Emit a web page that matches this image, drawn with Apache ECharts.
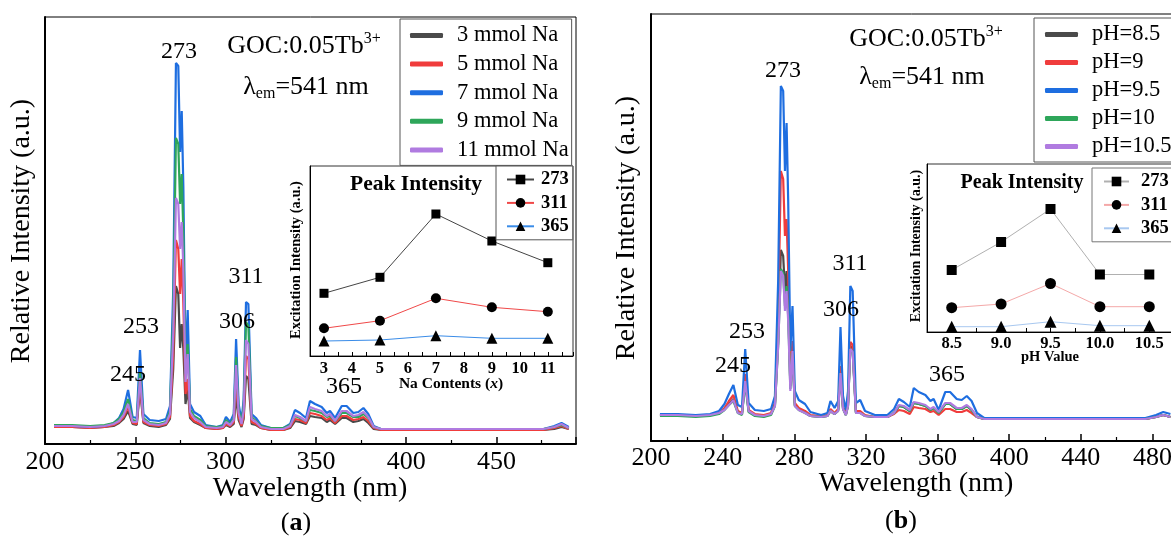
<!DOCTYPE html>
<html>
<head>
<meta charset="utf-8">
<script src="https://cdn.jsdelivr.net/npm/echarts@6/dist/echarts.min.js"></script>
<style>
  html, body { margin: 0; background: #fff; }
  #chart { width: 1171px; height: 536px; }
</style>
</head>
<body>
<div id="chart"></div>
<script>
// wavelength grid (nm) shared by both spectra panels
var wavelengths = [205,215,225,233,238,241,243.5,246,248.5,250.8,
  252.6,254.5,258,263,267,269.2,271,272.5,273.8,274.8,
  275.7,276.6,277.8,279,280.3,282.5,286,289,295,298.5,
  300.2,302.5,304.5,305.8,307.2,308.8,310,311.3,312.6,314.4,
  316.8,319.5,325,332,335.7,338.4,341.2,344.5,346.7,349.5,
  353.2,356,357.8,360.6,364.3,367,370.7,373.5,376.3,379,
  382,386,395,420,450,476,482,486,490];

// (a) Na content series, relative intensity
var na3 = [17,17,16,17,18,21,25,33,20,19,
  55,21,18,17,19,25,75,158,150,96,
  120,95,40,55,26,22,19,16,15,16,
  19,17,20,48,24,17,25,68,65,20,
  19,16,14,14,16,23,22,20,28,27,
  26,22,24,20,26,26,22,23,25,21,
  15,14,14,14,14,14,15,17,15];
var na5 = [17,17,16,17,19,22,27,37,21,20,
  60,22,19,18,20,27,90,204,195,150,
  185,140,50,65,28,23,20,16,15,16,
  20,18,22,63,27,18,28,88,85,22,
  20,16,14,14,17,25,24,21,31,30,
  28,24,26,21,28,28,24,25,27,23,
  16,14,14,14,14,14,16,18,15];
var na7 = [18,18,17,18,21,26,35,54,27,26,
  94,30,24,23,25,38,154,381,378,292,
  333,257,80,134,40,32,28,19,17,19,
  27,22,30,105,40,23,45,142,140,30,
  26,19,16,16,20,34,31,26,43,40,
  37,31,33,26,38,38,31,32,36,30,
  18,15,15,15,15,15,18,21,17];
var na9 = [19,19,18,19,21,25,32,45,24,23,
  72,26,21,20,22,33,130,306,300,240,
  270,210,70,100,35,28,24,18,17,18,
  24,20,26,87,34,21,38,122,118,27,
  23,18,16,16,19,28,26,23,34,33,
  31,27,28,23,31,31,27,27,30,26,
  17,15,15,15,15,15,17,19,16];
var na11 = [18,18,17,18,20,23,29,40,22,22,
  66,24,20,19,21,30,110,246,240,195,
  222,175,62,90,32,26,22,17,16,17,
  22,19,24,79,31,20,33,104,100,25,
  22,17,15,15,18,29,27,23,37,35,
  33,28,30,23,33,33,28,29,32,27,
  17,15,15,15,15,15,17,20,16];

// (b) pH series, relative intensity
var ph85 = [26,26,25,26,28,32,37,42,29,27,
  60,30,26,25,27,36,100,191,185,150,
  170,135,55,90,36,32,29,25,24,25,
  30,27,31,70,33,26,36,95,92,29,
  29,25,24,24,28,35,34,30,38,37,
  35,31,33,28,37,37,32,32,35,31,
  24,22,22,22,22,22,24,26,24];
var ph9 = [26,26,25,26,28,33,40,46,30,28,
  67,31,27,26,28,38,120,270,262,205,
  222,170,65,100,38,33,30,26,25,26,
  32,28,32,75,34,27,38,99,96,30,
  30,26,24,24,27,31,30,27,34,33,
  32,29,30,26,32,32,29,29,31,28,
  24,22,22,22,22,22,24,26,24];
var ph95 = [27,27,26,27,30,37,47,56,36,34,
  92,38,31,30,32,45,160,355,350,270,
  318,240,90,135,50,41,37,29,26,28,
  40,33,40,114,45,31,50,155,150,38,
  41,30,26,26,32,42,39,34,53,49,
  46,40,42,31,49,49,42,41,45,40,
  28,23,23,23,23,23,26,29,27];
var ph10 = [25,25,24,25,27,31,36,40,28,26,
  58,29,25,24,26,35,95,172,168,135,
  155,125,52,88,35,31,28,25,24,25,
  30,27,30,68,32,26,35,92,89,28,
  28,25,24,24,28,35,34,30,38,37,
  35,31,33,28,37,37,32,32,35,31,
  24,22,22,22,22,22,24,26,24];
var ph105 = [26,26,25,26,28,31,36,41,28,27,
  60,30,26,25,27,35,95,170,165,130,
  150,120,50,90,35,31,28,25,24,25,
  30,27,30,68,32,26,35,92,89,28,
  28,25,24,24,28,36,35,31,39,38,
  36,32,34,29,38,38,33,33,36,32,
  24,22,22,22,22,22,24,26,24];

// insets: peak intensity
var naContents = [3, 5, 7, 9, 11];
var naPeak273 = [62.7, 78.7, 142, 115, 93.3];
var naPeak311 = [27.7, 35.3, 57.7, 48.7, 44.3];
var naPeak365 = [15, 16, 20.3, 17.7, 17.7];
var phValues = [8.5, 9.0, 9.5, 10.0, 10.5];
var phPeak273 = [62, 90, 123, 57.5, 57.5];
var phPeak311 = [24.3, 28, 48.5, 25.3, 25.3];
var phPeak365 = [5.3, 5.3, 10.3, 6.3, 6.3];

var serif = "'Liberation Serif', 'Times New Roman', serif";
var colBlack = '#4a4a4a', colRed = '#f03c3c', colBlue = '#1e6ee0', colGreen = '#2ea65a', colPurple = '#b07be0';

function spec(name, vals, color, idx) {
  return {
    name: name, type: 'line', xAxisIndex: idx, yAxisIndex: idx,
    data: wavelengths.map(function (w, i) { return [w, vals[i]]; }),
    showSymbol: false, symbol: 'none', silent: true,
    lineStyle: { width: 2.2, color: color }, itemStyle: { color: color }
  };
}
function peak(name, xs, ys, sym, size, lineColor, idx) {
  return {
    name: name, type: 'line', xAxisIndex: idx, yAxisIndex: idx,
    data: xs.map(function (x, i) { return [x, ys[i]]; }),
    symbol: sym, symbolSize: size, showSymbol: true, silent: true,
    itemStyle: { color: '#000' }, lineStyle: { width: 1, color: lineColor }
  };
}
function label(txt, x, y, size) {
  return { type: 'text', x: x, y: y, z: 50,
    style: { text: txt, fill: '#000', font: (size || 24) + 'px ' + serif, align: 'center', verticalAlign: 'middle' } };
}
function bold(txt, x, y, size, rot) {
  return { type: 'text', x: x, y: y, z: 50, rotation: rot || 0,
    style: { text: txt, fill: '#000', font: 'bold ' + size + 'px ' + serif, align: 'center', verticalAlign: 'middle' } };
}
function goc(x, y) {
  return { type: 'text', x: x, y: y, z: 50,
    style: { text: '{a|GOC:0.05Tb}{s|3+}', align: 'center', verticalAlign: 'middle',
      rich: { a: { fontSize: 26, fontFamily: serif, fill: '#000', lineHeight: 30 },
              s: { fontSize: 16, fontFamily: serif, fill: '#000', verticalAlign: 'top', lineHeight: 30 } } } };
}
function lam(x, y) {
  return { type: 'text', x: x, y: y, z: 50,
    style: { text: '{a|λ}{s|em}{a|=541 nm}', align: 'center', verticalAlign: 'middle',
      rich: { a: { fontSize: 26, fontFamily: serif, fill: '#000', lineHeight: 30 },
              s: { fontSize: 16, fontFamily: serif, fill: '#000', verticalAlign: 'bottom', lineHeight: 24 } } } };
}

var mainX = function (idx, max, interval, margin) {
  return { type: 'value', gridIndex: idx, min: 200, max: max, interval: interval,
    axisLine: { onZero: false, lineStyle: { color: '#000', width: 2 } },
    axisTick: { inside: true, length: 7, lineStyle: { color: '#000', width: 1.5 } },
    minorTick: { show: true, splitNumber: 2, length: 4, lineStyle: { color: '#000', width: 1.2 } },
    axisLabel: { color: '#000', fontSize: 26, fontFamily: serif, margin: margin, showMaxLabel: false },
    splitLine: { show: false } };
};
var plainY = function (idx, max, w) {
  return { type: 'value', gridIndex: idx, min: 0, max: max,
    axisLine: { show: true, lineStyle: { color: '#000', width: w } },
    axisTick: { show: false }, axisLabel: { show: false }, splitLine: { show: false } };
};

var chart = echarts.init(document.getElementById('chart'));
chart.setOption({
  animation: false,
  backgroundColor: '#fff',
  grid: [
    { left: 45, top: 17, width: 531, height: 427, show: true, borderColor: '#000', borderWidth: 1, outerBoundsMode: 'none', containLabel: false },
    { left: 310, top: 166, width: 263, height: 190, show: true, borderColor: '#333', borderWidth: 1, backgroundColor: '#fff', outerBoundsMode: 'none', containLabel: false },
    { left: 651, top: 14, width: 600, height: 427, show: true, borderColor: '#000', borderWidth: 1, outerBoundsMode: 'none', containLabel: false },
    { left: 927, top: 164, width: 247, height: 168, show: true, borderColor: '#333', borderWidth: 1, backgroundColor: '#fff', outerBoundsMode: 'none', containLabel: false }
  ],
  xAxis: [
    mainX(0, 494, 50, 5),
    { type: 'value', gridIndex: 1, min: 2.5, max: 11.9, interval: 0.5,
      axisLine: { onZero: false, lineStyle: { color: '#000', width: 1 } },
      axisTick: { inside: true, length: 4, lineStyle: { color: '#000' } },
      axisLabel: { color: '#000', fontSize: 16.5, fontWeight: 'bold', fontFamily: serif, margin: 4,
        formatter: function (v) { return (Math.abs(v - Math.round(v)) < 1e-6 && v >= 3 && v <= 11) ? String(Math.round(v)) : ''; } },
      splitLine: { show: false } },
    mainX(2, 535, 40, 4),
    { type: 'value', gridIndex: 3, min: 8.25, max: 10.75, interval: 0.25,
      axisLine: { onZero: false, lineStyle: { color: '#000', width: 1 } },
      axisTick: { inside: true, length: 4, lineStyle: { color: '#000' } },
      axisLabel: { color: '#000', fontSize: 16.5, fontWeight: 'bold', fontFamily: serif, margin: 3,
        formatter: function (v) { var t = v * 2; return (Math.abs(t - Math.round(t)) < 1e-6 && v >= 8.5) ? v.toFixed(1) : ''; } },
      splitLine: { show: false } }
  ],
  yAxis: [plainY(0, 427, 2), plainY(1, 190, 1), plainY(2, 427, 2), plainY(3, 168, 1)],
  legend: [
    { data: ['3 mmol Na', '5 mmol Na', '7 mmol Na', '9 mmol Na', '11 mmol Na'],
      orient: 'vertical', left: 400, top: 19, padding: [5, 3, 4, 10], itemGap: 5.6,
      icon: 'roundRect', itemWidth: 33, itemHeight: 5,
      borderColor: '#555', borderWidth: 1, backgroundColor: '#fff', selectedMode: false,
      textStyle: { fontSize: 22.5, fontFamily: serif, color: '#000', lineHeight: 22, padding: [0, 0, 0, 9] } },
    { data: ['273', '311', '365'],
      orient: 'vertical', left: 496, top: 166, padding: [4, 4, 4, 10], itemGap: 4.4,
      itemWidth: 27, itemHeight: 12,
      borderColor: '#555', borderWidth: 1, backgroundColor: '#fff', selectedMode: false,
      textStyle: { fontSize: 18.5, fontWeight: 'bold', fontFamily: serif, color: '#000', lineHeight: 18, padding: [0, 0, 0, 2] } },
    { data: ['pH=8.5', 'pH=9', 'pH=9.5', 'pH=10', 'pH=10.5'],
      orient: 'vertical', left: 1034, top: 18, padding: [5, 20, 4, 11], itemGap: 5,
      icon: 'roundRect', itemWidth: 33, itemHeight: 5,
      borderColor: '#555', borderWidth: 1, backgroundColor: '#fff', selectedMode: false,
      textStyle: { fontSize: 22.5, fontFamily: serif, color: '#000', lineHeight: 22, padding: [0, 0, 0, 9] } },
    { data: ['273 ', '311 ', '365 '], formatter: function (n) { return n.trim(); },
      orient: 'vertical', left: 1092, top: 168, padding: [4, 20, 4, 11], itemGap: 4.4,
      itemWidth: 25, itemHeight: 12,
      borderColor: '#777', borderWidth: 1, backgroundColor: '#fff', selectedMode: false,
      textStyle: { fontSize: 18.5, fontWeight: 'bold', fontFamily: serif, color: '#000', lineHeight: 18, padding: [0, 0, 0, 7] } }
  ],
  series: [
    spec('3 mmol Na', na3, colBlack, 0),
    spec('5 mmol Na', na5, colRed, 0),
    spec('7 mmol Na', na7, colBlue, 0),
    spec('9 mmol Na', na9, colGreen, 0),
    spec('11 mmol Na', na11, colPurple, 0),
    peak('273', naContents, naPeak273, 'rect', 9, '#444', 1),
    peak('311', naContents, naPeak311, 'circle', 10, '#f04848', 1),
    peak('365', naContents, naPeak365, 'triangle', 11, '#3a8ce8', 1),
    spec('pH=8.5', ph85, colBlack, 2),
    spec('pH=9', ph9, colRed, 2),
    spec('pH=9.5', ph95, colBlue, 2),
    spec('pH=10', ph10, colGreen, 2),
    spec('pH=10.5', ph105, colPurple, 2),
    peak('273 ', phValues, phPeak273, 'rect', 10, '#b0b0b0', 3),
    peak('311 ', phValues, phPeak311, 'circle', 11, '#f4a8a8', 3),
    peak('365 ', phValues, phPeak365, 'triangle', 12, '#a8c8f0', 3)
  ],
  graphic: [
    label('273', 179, 52), label('253', 141, 327), label('245', 128, 375),
    label('311', 246, 277), label('306', 237, 322), label('365', 344, 387),
    goc(304, 46), lam(306, 87),
    { type: 'text', x: 22, y: 231, rotation: Math.PI / 2, z: 50,
      style: { text: 'Relative Intensity (a.u.)', fill: '#000', font: '28px ' + serif, align: 'center', verticalAlign: 'middle' } },
    label('Wavelength (nm)', 310, 489, 28),
    { type: 'text', x: 296, y: 523, z: 50,
      style: { text: '{n|(}{b|a}{n|)}', align: 'center', verticalAlign: 'middle',
        rich: { n: { fontSize: 26, fontFamily: serif, fill: '#000' }, b: { fontSize: 26, fontFamily: serif, fontWeight: 'bold', fill: '#000' } } } },
    bold('Peak Intensity', 416, 184, 21.5),
    bold('Excitation Intensity (a.u.)', 296, 260, 14.5, Math.PI / 2),
    { type: 'text', x: 451, y: 384, z: 50,
      style: { text: '{b|Na Contents (}{i|x}{b|)}', align: 'center', verticalAlign: 'middle',
        rich: { b: { fontSize: 15.5, fontWeight: 'bold', fontFamily: serif, fill: '#000' },
                i: { fontSize: 15.5, fontWeight: 'bold', fontStyle: 'italic', fontFamily: serif, fill: '#000' } } } },

    label('273', 783, 71), label('253', 747, 332), label('245', 733, 366),
    label('311', 850, 264), label('306', 841, 310), label('365', 947, 375),
    goc(926, 39), lam(922, 77),
    { type: 'text', x: 627, y: 228, rotation: Math.PI / 2, z: 50,
      style: { text: 'Relative Intensity (a.u.)', fill: '#000', font: '28px ' + serif, align: 'center', verticalAlign: 'middle' } },
    label('Wavelength (nm)', 916, 484, 28),
    { type: 'text', x: 901, y: 521, z: 50,
      style: { text: '{n|(}{b|b}{n|)}', align: 'center', verticalAlign: 'middle',
        rich: { n: { fontSize: 26, fontFamily: serif, fill: '#000' }, b: { fontSize: 26, fontFamily: serif, fontWeight: 'bold', fill: '#000' } } } },
    bold('Peak Intensity', 1022, 183, 20),
    bold('Excitation Intensity (a.u.)', 916, 246, 14, Math.PI / 2),
    bold('pH Value', 1050, 357, 14.5)
  ]
});
</script>
</body>
</html>
